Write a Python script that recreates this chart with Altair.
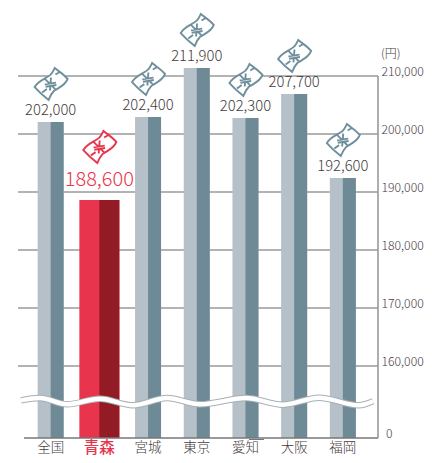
import altair as alt
import pandas as pd

categories = ["全国", "青森", "宮城", "東京", "愛知", "大阪", "福岡"]
value_labels = ["202,000", "188,600", "202,400", "211,900", "202,300", "207,700", "192,600"]
bar_values = [202070, 188620, 202930, 211380, 202760, 206900, 192410]
tick_values = [160000, 170000, 180000, 190000, 200000, 210000]
tick_labels = ["160,000", "170,000", "180,000", "190,000", "200,000", "210,000"]
axis_base = 147586
wave_x = [3, 22, 49, 82, 115, 149, 182, 228, 265, 301, 341, 355]
wave_y = [154086, 154483, 153397, 154362, 153224, 154483, 153397, 154483, 153328, 154535, 153224, 153914]

LIGHT, DARK = "#b6c0c8", "#6f8a97"
RED, DARKRED = "#e8354d", "#931b25"
ICON = "#6f8f9c"
TEXT = "#453c3e"
GRID = "#9a9a9a"
FONT = "Noto Sans CJK JP"

NOTE = ("M-0.94,0.18 C-0.72,-0.22 -0.28,-0.3 0,-0.55 C0.12,-0.68 0.18,-0.82 0.24,-0.94 "
        "C0.5,-0.72 0.8,-0.55 1,-0.3 C0.85,0.1 0.5,0.2 0.2,0.4 C0.05,0.55 -0.05,0.75 -0.12,0.94 "
        "C-0.4,0.72 -0.7,0.45 -0.94,0.18 Z "
        "M0.28,-0.56 L0.56,-0.72 M-0.5,0.5 L-0.22,0.3 "
        "M-0.34,-0.3 L0.28,0.32 M0.02,-0.38 L-0.04,0.38 M-0.34,0.02 L0.32,-0.08 M-0.3,0.16 L0.34,0.06")

df = pd.DataFrame({"cat": categories, "val": bar_values, "label": value_labels})
df["base"] = axis_base
normal = df[df.cat != "青森"]
hi = df[df.cat == "青森"]
ticks = pd.DataFrame({"v": tick_values, "t": tick_labels})
wave = pd.DataFrame({"x": wave_x, "y": wave_y})
one = pd.DataFrame({"v": [0]})

yscale = alt.Scale(domain=[axis_base, 221724], nice=False, zero=False)
xscale = alt.Scale(domain=categories, range=[8.3, 349.2], paddingInner=0, paddingOuter=0)
X = alt.X("cat:N", scale=xscale, axis=None, sort=None)
Y = alt.Y("val:Q", scale=yscale, axis=None)
Y2 = alt.Y2("base:Q")


def bars(data, color, w, off=0):
    return alt.Chart(data).mark_bar(color=color, width=w, xOffset=off, clip=False).encode(x=X, y=Y, y2=Y2)


grid = alt.Chart(ticks).mark_rule(color=GRID, strokeWidth=1.6).encode(
    y=alt.Y("v:Q", scale=yscale, axis=None), x=alt.value(0), x2=alt.value(360))
right = alt.Chart(one).mark_rule(color=GRID, strokeWidth=1.6).encode(
    x=alt.value(360), y=alt.value(68), y2=alt.value(430))
bottom = alt.Chart(one).mark_rule(color="#777777", strokeWidth=1.4).encode(
    x=alt.value(6), x2=alt.value(360), y=alt.value(430))
tick_text = alt.Chart(ticks).mark_text(align="left", baseline="middle", dy=-4, font=FONT, fontSize=12.2,
                                       fontWeight=300, color=TEXT).encode(
    y=alt.Y("v:Q", scale=yscale, axis=None), x=alt.value(363.5), text="t:N")
zero_text = alt.Chart(one).mark_text(align="left", baseline="middle", font=FONT, fontSize=12.2,
                                     fontWeight=300, color=TEXT, text="0").encode(
    x=alt.value(368), y=alt.value(426))
unit_text = alt.Chart(one).mark_text(align="left", baseline="middle", font=FONT, fontSize=12,
                                     fontWeight=300, color=TEXT, text="(円)").encode(
    x=alt.value(363), y=alt.value(46))

wave_scale_x = alt.X("x:Q", scale=alt.Scale(domain=[0, 360], range=[0, 360], nice=False, zero=False), axis=None)
wave_scale_y = alt.Y("y:Q", scale=yscale, axis=None)
wave_edge = alt.Chart(wave).mark_line(color="#a8b0b4", strokeWidth=6.4, interpolate="monotone").encode(
    x=wave_scale_x, y=wave_scale_y, order="x:Q")
wave_white = alt.Chart(wave).mark_line(color="white", strokeWidth=4.4, interpolate="monotone").encode(
    x=wave_scale_x, y=wave_scale_y, order="x:Q")

val_text = alt.Chart(normal).mark_text(baseline="middle", dy=-11, font=FONT, fontSize=14.8, fontWeight=300,
                                       color=TEXT).encode(x=X, y=Y, text="label:N")
val_hi = alt.Chart(hi).mark_text(baseline="middle", dy=-20, font=FONT, fontSize=20, fontWeight=300,
                                 color=RED).encode(x=X, y=Y, text="label:N")


def icons(data, color, off):
    return alt.Chart(data).mark_point(shape=NOTE, size=1156, filled=False, fill="white", fillOpacity=1,
                                      stroke=color, strokeWidth=1.9, opacity=1, yOffset=off).encode(x=X, y=Y)


cat_text = alt.Chart(normal).mark_text(baseline="middle", font=FONT, fontSize=13.5, fontWeight=300,
                                       color=TEXT).encode(x=X, y=alt.value(440), text="cat:N")
cat_hi = alt.Chart(hi).mark_text(baseline="middle", font=FONT, fontSize=15.5, fontWeight=500,
                                 color=RED).encode(x=X, y=alt.value(439.5), text="cat:N")
overline = alt.Chart(one).mark_rule(color="#777777", strokeWidth=1).encode(
    x=alt.value(231), x2=alt.value(246), y=alt.value(431.5))

band_layers = alt.layer(
    grid,
    bars(normal, LIGHT, 26), bars(normal, DARK, 13, 6.5),
    bars(hi, RED, 40), bars(hi, DARKRED, 20, 10),
    right, bottom, tick_text, zero_text, unit_text,
)
top_layers = alt.layer(
    icons(normal, ICON, -38), icons(hi, RED, -53),
    val_text, val_hi, cat_text, cat_hi, overline,
)
wave_layers = alt.layer(wave_edge, wave_white)

chart = alt.layer(band_layers, wave_layers, top_layers).resolve_scale(x="independent").properties(
    width=360, height=430,
    padding={"left": 10, "top": 0, "right": 46, "bottom": 17},
    autosize=alt.AutoSizeParams(type="none", contains="content"),
    background="white",
).configure_view(stroke=None)

chart.save("out.html", embed_options={"renderer": "svg", "actions": False})
